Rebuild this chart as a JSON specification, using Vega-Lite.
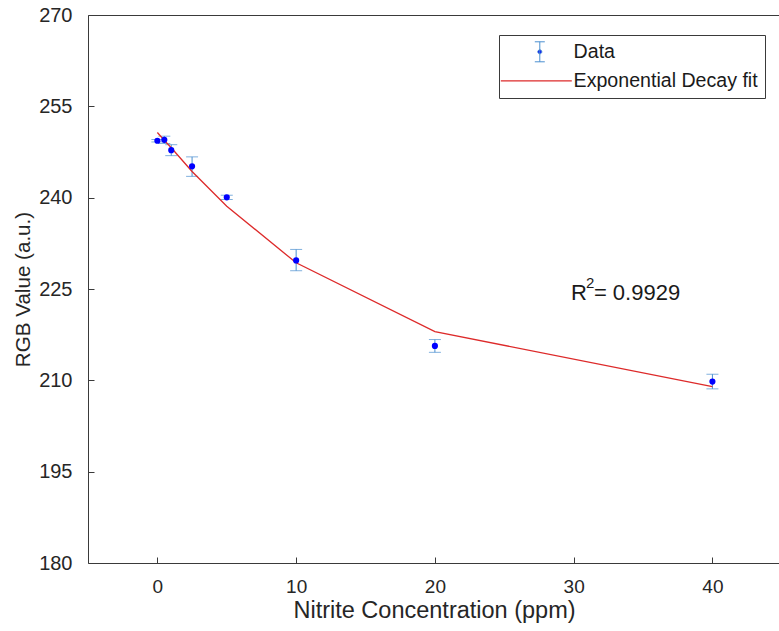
{
  "$schema": "https://vega.github.io/schema/vega-lite/v6.json",
  "autosize": {"type": "none"},
  "padding": {"left": 88, "top": 15, "right": 0, "bottom": 68},
  "width": 692,
  "height": 548,
  "background": "white",
  "config": {
    "view": {"stroke": "#3a3a3a", "strokeWidth": 1},
    "font": "Liberation Sans",
    "axis": {
      "domain": false,
      "grid": false,
      "tickColor": "#3a3a3a",
      "tickSize": -6,
      "labelFont": "Liberation Sans",
      "titleFont": "Liberation Sans",
      "labelColor": "#262626",
      "titleColor": "#262626",
      "titleFontWeight": "normal"
    }
  },
  "data": {
    "values": [
      {"x": 0, "y": 249.35, "ylo": 249.15, "yhi": 249.55, "fit": 250.7},
      {"x": 0.5, "y": 249.5, "ylo": 248.9, "yhi": 250.1, "fit": 249.4},
      {"x": 1, "y": 247.8, "ylo": 246.9, "yhi": 248.7, "fit": 248.2},
      {"x": 2.5, "y": 245.15, "ylo": 243.5, "yhi": 246.7, "fit": 244.3},
      {"x": 5, "y": 240.05, "ylo": 239.7, "yhi": 240.4, "fit": 238.6},
      {"x": 10, "y": 229.7, "ylo": 228.0, "yhi": 231.5, "fit": 229.3},
      {"x": 20, "y": 215.65, "ylo": 214.6, "yhi": 216.7, "fit": 218.0},
      {"x": 40, "y": 209.8, "ylo": 208.6, "yhi": 211.0, "fit": 208.95}
    ]
  },
  "layer": [
    {
      "mark": {"type": "rule", "color": "#4a8fd0", "strokeWidth": 1},
      "encoding": {
        "x": {
          "field": "x", "type": "quantitative",
          "scale": {"domain": [-5, 44.87], "nice": false, "zero": false},
          "axis": {"values": [0, 10, 20, 30, 40], "title": "Nitrite Concentration (ppm)", "labelFontSize": 19, "titleFontSize": 23.5, "labelPadding": 20, "titlePadding": 2}
        },
        "y": {
          "field": "ylo", "type": "quantitative",
          "scale": {"domain": [180, 270], "nice": false, "zero": false},
          "axis": {"values": [180, 195, 210, 225, 240, 255, 270], "title": "RGB Value (a.u.)", "labelFontSize": 20, "titleFontSize": 20.6, "labelPadding": 22, "titlePadding": 5}
        },
        "y2": {"field": "yhi"}
      }
    },
    {
      "mark": {"type": "tick", "orient": "horizontal", "color": "#4a8fd0", "size": 12, "thickness": 1},
      "encoding": {
        "x": {"field": "x", "type": "quantitative"},
        "y": {"field": "ylo", "type": "quantitative"}
      }
    },
    {
      "mark": {"type": "tick", "orient": "horizontal", "color": "#4a8fd0", "size": 12, "thickness": 1},
      "encoding": {
        "x": {"field": "x", "type": "quantitative"},
        "y": {"field": "yhi", "type": "quantitative"}
      }
    },
    {
      "mark": {"type": "line", "strokeWidth": 1.3},
      "encoding": {
        "x": {"field": "x", "type": "quantitative"},
        "y": {"field": "fit", "type": "quantitative"},
        "color": {
          "datum": "Exponential Decay fit",
          "scale": {"domain": ["Data", "Exponential Decay fit"], "range": ["#4a8fd0", "#dd2a2a"]},
          "legend": {
            "title": null,
            "orient": "none",
            "legendX": 411,
            "legendY": 20,
            "strokeColor": "#3a3a3a",
            "fillColor": "white",
            "padding": 7,
            "labelFont": "Liberation Sans",
            "labelFontSize": 19.6,
            "labelColor": "#1a1a1a",
            "labelLimit": 0,
            "labelOffset": 48,
            "rowPadding": 6,
            "symbolSize": 400,
            "symbolType": "M-1.5,0H5.6",
            "symbolStrokeWidth": 1.3,
            "encode": {
              "symbols": {
                "update": {
                  "shape": {"signal": "datum.value === 'Data' ? 'M1.9,-1H2.9M2.4,-1V1M1.9,1H2.9M2.6,0A0.2,0.2,0,1,1,2.2,0A0.2,0.2,0,1,1,2.6,0Z' : 'M-1.5,0H5.6'"},
                  "stroke": {"signal": "datum.value === 'Data' ? '#4a8fd0' : '#dd2a2a'"},
                  "fill": {"signal": "datum.value === 'Data' ? '#0000ff' : 'transparent'"},
                  "strokeWidth": {"signal": "datum.value === 'Data' ? 1 : 1.3"}
                }
              }
            }
          }
        }
      }
    },
    {
      "mark": {"type": "point", "filled": true, "color": "#0000ff", "size": 38, "opacity": 1},
      "encoding": {
        "x": {"field": "x", "type": "quantitative"},
        "y": {"field": "y", "type": "quantitative"}
      }
    },
    {
      "data": {"values": [{"label": "R"}]},
      "mark": {"type": "text", "align": "left", "baseline": "middle", "fontSize": 22, "font": "Liberation Sans", "color": "#1a1a1a"},
      "encoding": {
        "text": {"field": "label"},
        "x": {"datum": 29.8},
        "y": {"datum": 224.4}
      }
    },
    {
      "data": {"values": [{"label": "2"}]},
      "mark": {"type": "text", "align": "left", "baseline": "middle", "fontSize": 15, "dx": 15, "dy": -10, "font": "Liberation Sans", "color": "#1a1a1a"},
      "encoding": {
        "text": {"field": "label"},
        "x": {"datum": 29.8},
        "y": {"datum": 224.4}
      }
    },
    {
      "data": {"values": [{"label": "= 0.9929"}]},
      "mark": {"type": "text", "align": "left", "baseline": "middle", "fontSize": 22, "dx": 23, "font": "Liberation Sans", "color": "#1a1a1a"},
      "encoding": {
        "text": {"field": "label"},
        "x": {"datum": 29.8},
        "y": {"datum": 224.4}
      }
    }
  ]
}
